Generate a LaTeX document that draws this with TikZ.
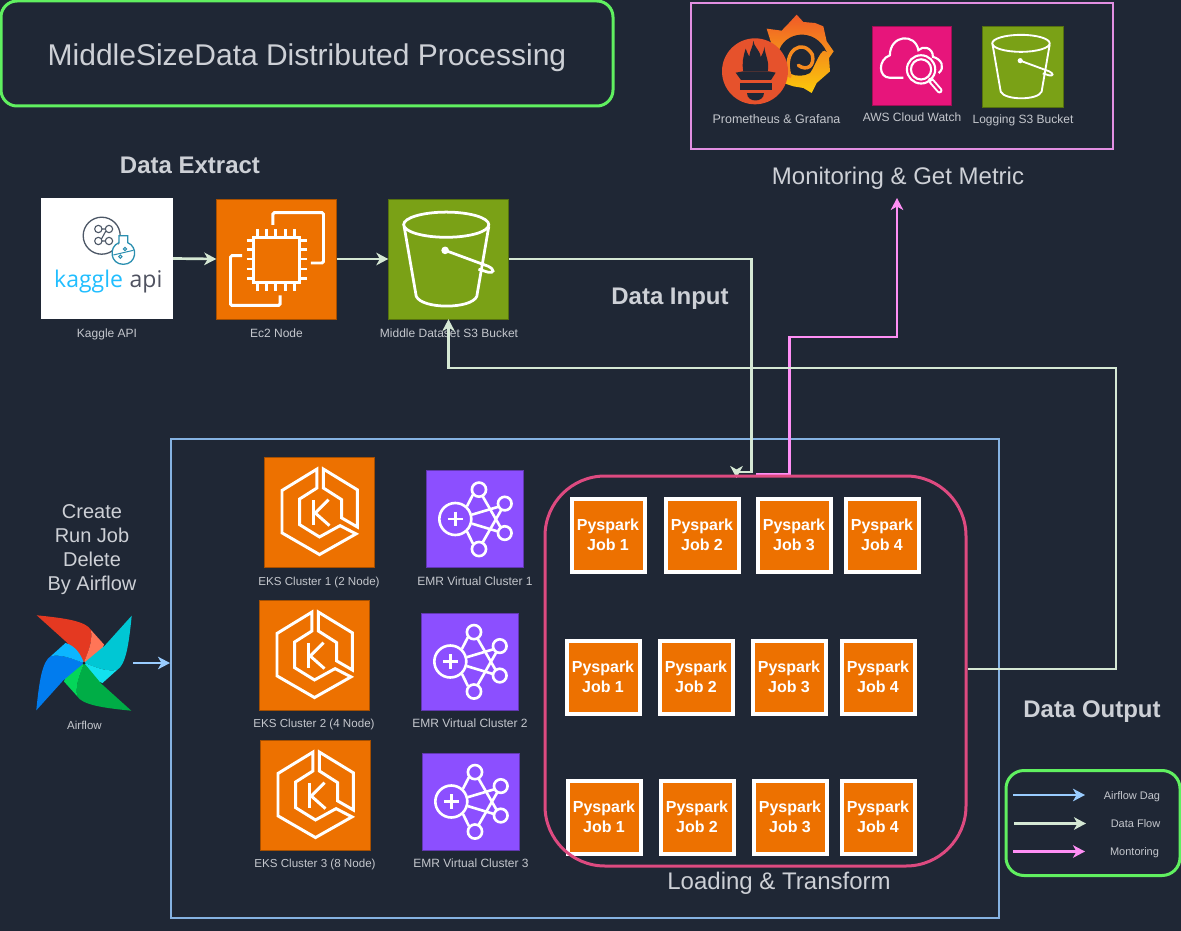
\documentclass[tikz,border=0pt]{standalone}
\usepackage{fontspec}
\setmainfont{Liberation Sans}
\newfontfamily\kagglefont{Open Sans}
\usetikzlibrary{arrows.meta,positioning,calc}

\definecolor{bgcolor}{HTML}{1F2735}
\definecolor{textcolor}{HTML}{CDD0D6}
\definecolor{labelcolor}{HTML}{C4C7CD}
\definecolor{greenline}{HTML}{60F060}
\definecolor{pinkline}{HTML}{E28FE2}
\definecolor{blueline}{HTML}{85B2E2}
\definecolor{roseline}{HTML}{DD4A80}
\definecolor{flowcolor}{HTML}{D5E8D4}
\definecolor{dagcolor}{HTML}{99CCFF}
\definecolor{montcolor}{HTML}{FF8FF5}
\definecolor{awsorange}{HTML}{ED7100}
\definecolor{awsgreen}{HTML}{7AA116}
\definecolor{awspink}{HTML}{E7157B}
\definecolor{awspurple}{HTML}{8C4FFF}
\definecolor{promcolor}{HTML}{E6522C}
\definecolor{grafanatop}{HTML}{F05A28}
\definecolor{grafanabottom}{HTML}{FBCA0A}
\definecolor{grafanaswirl}{HTML}{F58A1F}
\definecolor{kagglegrey}{HTML}{4C5766}
\definecolor{flaskblue}{HTML}{2A8FB0}
\definecolor{kaggleblue}{HTML}{20BEFF}
\definecolor{apigrey}{HTML}{4F5260}
\definecolor{afreddark}{HTML}{E43921}
\definecolor{afredlight}{HTML}{FF7557}
\definecolor{afteadark}{HTML}{00C7D4}
\definecolor{afteallight}{HTML}{11E1EE}
\definecolor{afgreendark}{HTML}{00AD46}
\definecolor{afgreenlight}{HTML}{04D659}
\definecolor{afbluedark}{HTML}{017CEE}
\definecolor{afbluelight}{HTML}{0CB6FF}

\tikzset{
  headtext/.style={text=textcolor,font=\bfseries\fontsize{24}{28}\selectfont,inner sep=0pt,text height=18pt,text depth=6pt},
  plaintext/.style={text=textcolor,font=\fontsize{24}{28}\selectfont,inner sep=0pt,text height=18pt,text depth=6pt},
  smalltext/.style={text=labelcolor,font=\fontsize{#1}{15}\selectfont,inner sep=0pt,text height=9pt,text depth=3pt},
  iconbox/.style={inner sep=0pt,minimum size=#1},
  pysparkbox/.style={draw=white,line width=4pt,fill=awsorange,inner sep=0pt,minimum size=73pt,
    text=white,align=center,font=\bfseries\fontsize{16}{20}\selectfont},
  outerbox/.style={line width=3pt,rounded corners=#1},
  flowtip/.style={-{Stealth[length=12pt,width=12.5pt,inset=3.5pt]},line width=2.7pt},
  dataflow/.style={flowtip,draw=flowcolor},
  dagflow/.style={flowtip,draw=dagcolor},
  montflow/.style={flowtip,draw=montcolor},
  pics/eksicon/.style={code={
    \begin{scope}[x=#1*0.01pt,y=-#1*0.01pt,draw=white,line width=#1*0.027pt,line join=miter]
      \draw (-2.4,-39) -- (-34.1,-19.6) -- (-34.1,19) -- (0,38.7) -- (33.2,19.9) -- (18.7,12.4)
        -- (0,22.7) -- (-18.1,11.5) -- (-18.1,-11.8) -- (-2.4,-21.8) -- cycle;
      \draw (3.6,-39) -- (34.4,-20.2) -- (34.4,13.6) -- (20.2,5.4) -- (20.2,-11.2) -- (3.6,-21.8) -- cycle;
      \draw (-5.4,-10.6) -- (-5.4,11.5);
      \draw (8.2,-11.2) -- (-3.9,0.9) -- (9.1,12.4);
    \end{scope}}},
  pics/emricon/.style={code={
    \begin{scope}[x=#1*0.01pt,y=-#1*0.01pt,draw=white,line width=#1*0.027pt]
      \draw (-20.3,0) circle (16.5);
      \draw (-27.9,0) -- (-12.7,0) (-20.3,-7.6) -- (-20.3,7.6);
      \draw (4.1,-30.3) circle (7.3) (30.7,-15.9) circle (7) (30.7,14.5) circle (7) (4.1,31) circle (7.3);
      \draw (-8.3,-13.1) -- (-2.1,-25.2) (-3.1,-4.5) -- (23.4,-12.4);
      \draw (-3.1,4.8) -- (23.4,12.8) (-8.3,12.8) -- (-2.1,25.5);
      \draw (7.9,-23.4) -- (26.2,8.3) (7.9,24.1) -- (26.9,-9);
    \end{scope}}},
  pics/bucketicon/.style={code={
    \begin{scope}[x=#1*0.01pt,y=-#1*0.01pt,draw=white,line width=#1*0.023pt]
      \draw (-1.9,-28.6) ellipse (35.5 and 10.5);
      \draw (-37,-27.2) -- (-26.9,31.1) .. controls (-22,42) and (19,42) .. (23.6,31.1) -- (33.6,-27.2);
      \fill[white] (-2.8,-7.2) circle (3.2);
      \draw (-2.8,-7.2) -- (33,6) .. controls (39,9) and (38,12) .. (33,11) -- (25,8.5);
    \end{scope}}},
  pics/chipicon/.style={code={
    \begin{scope}[x=#1*0.01pt,y=-#1*0.01pt,draw=white,line width=#1*0.024pt]
      \draw (-19,-18.2) rectangle (19.1,19.9);
      \foreach \pinx in {-16,-8.5,-0.5,7.2,15}
        \draw (\pinx,-24.9) -- (\pinx,-18.2) (\pinx,19.9) -- (\pinx,26.8);
      \foreach \piny in {-15.5,-7.7,0,8.3,16.6}
        \draw (-25,\piny) -- (-19,\piny) (19.1,\piny) -- (25.7,\piny);
      \draw[rounded corners=1.5pt] (-3,-28.5) -- (-3,-38.7) -- (39.2,-38.7) -- (39.2,3.3) -- (28.7,3.3);
      \draw[rounded corners=1.5pt] (-28.7,-2.8) -- (-38.4,-2.8) -- (-38.4,38.7) -- (3,38.7) -- (3,30.4);
    \end{scope}}},
  pics/cloudicon/.style={code={
    \begin{scope}[x=#1*0.01pt,y=-#1*0.01pt,draw=white,line width=#1*0.027pt]
      \draw (-10.4,14.9) -- (-27.4,14.9) .. controls (-42,14.9) and (-43,-8) .. (-27.4,-13.6)
        .. controls (-27,-40) and (5,-42) .. (8.7,-20) .. controls (14,-26) and (27,-24) .. (27.2,-11.5)
        .. controls (38,-9) and (43,2) .. (34.4,9);
      \draw (12.1,4.3) circle (17.9) (12.1,4.3) circle (12.8);
      \draw[line width=#1*0.075pt,line cap=round] (24.5,18.3) -- (35.5,31);
      \draw[awspink,line width=#1*0.025pt,line cap=round] (26,20) -- (35.5,31);
    \end{scope}}}
}

\begin{document}
\begin{tikzpicture}[x=1pt,y=-1pt]
  \useasboundingbox (0,0) rectangle (1181,931);
  \fill[bgcolor] (0,0) rectangle (1181,931);

% Title
  \node[draw=greenline,outerbox=16pt,minimum width=612pt,minimum height=105pt,text=textcolor,text height=24pt,text depth=0pt,
    font=\fontsize{30}{36}\selectfont] (titlebox) at (307,53.5) {MiddleSizeData Distributed Processing};

% Monitoring group
  \node[draw=pinkline,line width=2pt,minimum width=422pt,minimum height=146pt] (monbox) at (902,76) {};
  \node[plaintext] (montext) at (898,178) {Monitoring \& Get Metric};
  \node[iconbox=79pt,fill=awspink,draw=awspink!70!black] (cloudwatch) at (911.5,66) {};
  \pic at (cloudwatch.center) {cloudicon=79};
  \node[iconbox=81pt,fill=awsgreen,draw=awsgreen!70!black] (logbucket) at (1022.5,66.5) {};
  \pic at (logbucket.center) {bucketicon=81};
  \node[smalltext=12.5] (promlabel) at (776.5,121) {Prometheus \& Grafana};
  \node[smalltext=12] (cloudlabel) at (912,119) {AWS Cloud Watch};
  \node[smalltext=12] (loglabel) at (1023,121) {Logging S3 Bucket};

% Grafana logo
  \begin{scope}[shift={(715,8)},x=0.3333pt,y=-0.3333pt]
    \shade[top color=grafanatop,bottom color=grafanabottom] (155,62) -- (200,68) -- (222,45) -- (245,20) -- (265,42)
      -- (300,45) -- (325,55) -- (335,100) -- (356,130) -- (342,150) -- (345,190) -- (328,205)
      -- (305,225) -- (290,255) -- (265,240) -- (235,235) -- (190,220) -- (170,110) -- cycle;
    \fill[bgcolor] (190,135) .. controls (205,70) and (300,55) .. (335,132)
      .. controls (320,110) and (300,175) .. (285,195) .. controls (250,215) and (195,200) .. cycle;
    \draw[line width=3.5pt,draw=grafanaswirl,line cap=round] (225,205) .. controls (200,125) and (265,90) .. (292,140)
      .. controls (300,175) and (275,190) .. (250,172);
  \end{scope}

% Prometheus logo
  \begin{scope}[shift={(715,8)},x=0.3333pt,y=-0.3333pt]
    \fill[promcolor] (120,190) circle (99);
    \fill[bgcolor] (115,98) .. controls (118,120) and (135,125) .. (137,148) .. controls (140,140) and (148,130) .. (148,116)
      .. controls (150,140) and (165,165) .. (158,190) -- (85,190) .. controls (80,165) and (85,145) .. (92,122)
      .. controls (95,132) and (100,140) .. (103,146) .. controls (103,130) and (115,115) .. cycle;
    \fill[bgcolor] (62,194) -- (85,190) -- (160,190) -- (182,194) -- (168,216) -- (78,216) -- cycle;
    \fill[bgcolor] (75,226) rectangle (170,245);
    \fill[bgcolor] (97,254) -- (148,254) .. controls (148,285) and (97,285) .. cycle;
  \end{scope}

% Data extract
  \node[headtext] (extracttext) at (190,168) {Data Extract};
  \node[iconbox=121pt,fill=white,minimum width=132pt] (kaggle) at (107,258.5) {};
  \node[smalltext=12] (kagglelabel) at (107,334) {Kaggle API};
  \draw[draw=kagglegrey,line width=1.3pt] (101.7,235.7) circle (18.5);
  \begin{scope}[shift={(45,205)},x=0.3333pt,y=-0.3333pt]
    \draw[draw=kagglegrey,line width=1.1pt] (160,72) circle (11) (192,72) circle (11) (160,108) circle (11) (192,108) circle (11)
      (171,72) -- (181,72) (182,79) -- (170,101) (171,108) -- (181,108);
    \fill[white] (235,145) circle (34) (220,90) rectangle (250,120);
    \draw[draw=flaskblue,line width=1.3pt] (222,113) -- (222,92) -- (248,92) -- (248,113)
      .. controls (280,125) and (275,178) .. (235,178) .. controls (195,178) and (190,125) .. cycle;
    \draw[draw=flaskblue,line width=1pt] (205,150) -- (265,136);
    \draw[draw=flaskblue,line width=1pt] (240,132) circle (5) (226,155) circle (5);
  \end{scope}
  \node[inner sep=0pt,anchor=base west,text=kaggleblue,font=\kagglefont\fontsize{23}{26}\selectfont] (kaggletext) at (54,287.5) {kaggle};
  \node[inner sep=0pt,anchor=base west,text=apigrey,font=\kagglefont\fontsize{23}{26}\selectfont] (apitext) at (129.5,287.5) {api};
  \node[iconbox=120pt,fill=awsorange,draw=awsorange!70!black] (ecnode) at (276.5,259) {};
  \pic at (ecnode.center) {chipicon=120};
  \node[smalltext=12] (eclabel) at (276.5,334) {Ec2 Node};
  \node[iconbox=120pt,fill=awsgreen,draw=awsgreen!70!black] (mainbucket) at (448.5,259) {};
  \pic at (mainbucket.center) {bucketicon=120};
  \node[smalltext=12] (bucketlabel) at (449,334) {Middle Dataset S3 Bucket};
  \node[headtext] (inputtext) at (670,298) {Data Input};
  \node[headtext] (outputtext) at (1092,711) {Data Output};

% Cluster group
  \node[draw=blueline,line width=2pt,minimum width=828pt,minimum height=479pt] (clusterbox) at (585,678.5) {};
  \node[plaintext] (loadtext) at (779,883) {Loading \& Transform};
  \foreach \rownum/\eksx/\eksy/\emrx/\emry/\labely/\workers in
    {1/319.5/512/475/519/582/2,2/314.5/655/470/661.5/724/4,3/315.5/795/471/801.5/864/8} {
    \node[iconbox=110pt,fill=awsorange,draw=awsorange!70!black] (eks\rownum) at (\eksx,\eksy) {};
    \pic at (eks\rownum.center) {eksicon=110};
    \node[iconbox=97pt,fill=awspurple,draw=awspurple!70!black] (emr\rownum) at (\emrx,\emry) {};
    \pic at (emr\rownum.center) {emricon=97};
    \node[smalltext=11.6] (ekslabel\rownum) at (\eksx-0.5,\labely) {EKS Cluster \rownum{} (\workers{} Node)};
    \node[smalltext=12] (emrlabel\rownum) at (\emrx,\labely) {EMR Virtual Cluster \rownum};
  }

% Pyspark jobs
  \foreach \jobnum/\jobx in {1/608,2/702,3/794,4/882}
    \node[pysparkbox] (joba\jobnum) at (\jobx,535) {Pyspark\\Job \jobnum};
  \foreach \jobnum/\jobx in {1/603,2/696,3/789,4/878}
    \node[pysparkbox] (jobb\jobnum) at (\jobx,677) {Pyspark\\Job \jobnum};
  \foreach \jobnum/\jobx in {1/604,2/697,3/790,4/878}
    \node[pysparkbox] (jobc\jobnum) at (\jobx,817) {Pyspark\\Job \jobnum};

% Airflow logo
  \node[iconbox=95pt] (airflow) at (84,663) {};
  \node[smalltext=11.5] (airflowlabel) at (84.5,726) {Airflow};
  \node[text=textcolor,align=center,inner sep=0pt,font=\fontsize{20}{24}\selectfont] (createtext) at (92,550)
    {Create\\Run Job\\Delete\\By Airflow};
  \foreach \bladeangle/\darkc/\lightc in {0/afreddark/afredlight,-90/afteadark/afteallight,-180/afgreendark/afgreenlight,-270/afbluedark/afbluelight} {
    \begin{scope}[shift={(airflow.center)},rotate=\bladeangle]
      \fill[\darkc] (-47.3,-47.7) .. controls (-20,-45) and (2,-42) .. (7,-33) .. controls (9,-20) and (3,-10) .. (0,0) -- (-17.3,-20.7) -- cycle;
      \fill[\lightc] (7,-33) -- (20,-18.5) .. controls (17,-8) and (8,-3) .. (0,0) .. controls (3,-10) and (9,-20) .. cycle;
    \end{scope}
  }
  \fill[bgcolor!80!black] (airflow.center) circle (1.5);

% Legend
  \node[draw=greenline,outerbox=18pt,minimum width=174pt,minimum height=105pt] (legendbox) at (1093,823) {};
  \node[smalltext=11] (legdag) at (1132,796) {Airflow Dag};
  \node[smalltext=11] (legflow) at (1135.5,824) {Data Flow};
  \node[smalltext=11] (legmont) at (1134.5,852.5) {Montoring};
  \coordinate (dagstart) at (1013,795);
  \coordinate (dagend) at (1085,795);
  \coordinate (flowstart) at (1014,823.5);
  \coordinate (flowend) at (1086,823.5);
  \coordinate (montstart) at (1013,851.5);
  \coordinate (montend) at (1085,851.5);

% Connectors under the job box outline
  \coordinate (loadtip) at (736.5,478);
  \coordinate (monstart) at (756,474);
  \coordinate (montip) at (897,198);
  \draw[dataflow] (kaggle.east) -- (ecnode.west);
  \draw[dataflow] (ecnode.east) -- (mainbucket.west);
  \draw[dataflow] (mainbucket.east) -- (751.5,259) -- (751.5,472) -- (736.5,472) -- (loadtip);
  \draw[montflow] (monstart) -- (789.5,474) -- (789.5,337) -- (897,337) -- (montip);
  \node[draw=roseline,outerbox=60pt,minimum width=421pt,minimum height=390pt] (loadbox) at (755.5,671) {};

% Other connectors
  \draw[dataflow] ([yshift=2pt]loadbox.east) -- (1116,669) -- (1116,368) -- (448.5,368) -- (mainbucket.south);
  \draw[dagflow] (133,663) -- (clusterbox.west |- airflow.center);
  \draw[dagflow] (dagstart) -- (dagend);
  \draw[dataflow] (flowstart) -- (flowend);
  \draw[montflow] (montstart) -- (montend);
\end{tikzpicture}
\end{document}
